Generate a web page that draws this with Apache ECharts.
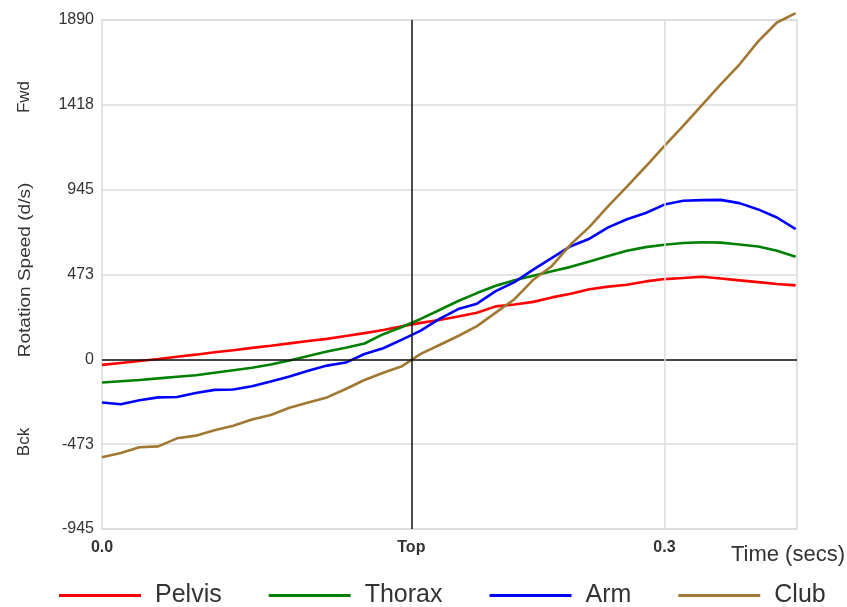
<!DOCTYPE html>
<html>
<head>
<meta charset="utf-8">
<script src="https://cdn.jsdelivr.net/npm/echarts@6/dist/echarts.min.js"></script>
<style>
  html, body { margin: 0; padding: 0; background: #fff; }
  #chart { width: 847px; height: 607px; }
</style>
</head>
<body>
<div id="chart"></div>
<script>
// Time samples (seconds)
const times = [0.00,0.01,0.02,0.03,0.04,0.05,0.06,0.07,0.08,0.09,
               0.10,0.11,0.12,0.13,0.14,0.15,0.16,0.17,0.18,0.19,
               0.20,0.21,0.22,0.23,0.24,0.25,0.26,0.27,0.28,0.29,
               0.30,0.31,0.32,0.33,0.34,0.35,0.36,0.37];

const pelvis = [-31,-20,-9,2,14,26,39,51,64,76,
                89,102,114,130,146,163,184,203,219,239,
                260,295,305,320,345,365,390,405,415,434,
                447,453,460,450,440,430,420,412];

const thorax = [-129,-122,-115,-106,-97,-89,-75,-61,-47,-29,
                -7,18,44,65,88,140,180,225,275,325,
                369,410,440,465,490,515,545,575,605,625,
                638,648,652,650,640,628,605,572];

const arm = [-240,-250,-228,-212,-210,-188,-170,-168,-150,-124,
             -95,-63,-35,-18,30,62,110,160,225,280,
             310,380,430,500,565,630,672,735,780,815,
             862,883,887,888,870,835,790,725];

const club = [-545,-522,-490,-485,-440,-425,-395,-370,-335,-310,
              -270,-240,-212,-165,-115,-75,-38,30,80,130,
              185,260,335,443,520,640,738,853,962,1074,
              1189,1300,1416,1531,1642,1771,1876,1928];

const seriesNames = ['Pelvis', 'Thorax', 'Arm', 'Club'];
const seriesData = [pelvis, thorax, arm, club];
const seriesColors = ['#ff0000', '#008000', '#0000ff', '#a07832'];

// Axis ticks
const yMin = -945, yMax = 1890, yInterval = 472.5;
const yTickLabels = ['-945', '-473', '0', '473', '945', '1418', '1890'];
const xMin = 0, xMax = 0.3707;
const topTime = 0.165;
const xTickValues = [0, topTime, 0.3];
const xTickLabels = ['0.0', 'Top', '0.3'];

const FONT = '"Liberation Sans", Arial, sans-serif';

const chart = echarts.init(document.getElementById('chart'), null, { renderer: 'canvas' });

const series = seriesNames.map((name, i) => ({
  name: name,
  type: 'line',
  data: times.map((t, k) => [t, seriesData[i][k]]),
  showSymbol: false,
  symbol: 'none',
  clip: false,
  z: 3,
  lineStyle: { color: seriesColors[i], width: 2.6 },
  itemStyle: { color: seriesColors[i] }
}));

// reference lines (zero line, "Top" line, 0.3 grid line)
series.unshift({
  name: 'ref',
  type: 'line',
  data: [],
  z: 1,
  silent: true,
  markLine: {
    silent: true,
    symbol: 'none',
    precision: 6,
    animation: false,
    label: { show: false },
    data: [
      { yAxis: 0, lineStyle: { color: '#111', width: 1.5, type: 'solid' } },
      { xAxis: topTime, lineStyle: { color: '#111', width: 1.5, type: 'solid' } },
      { xAxis: 0.3, lineStyle: { color: '#dcdcdc', width: 1.5, type: 'solid' } }
    ]
  }
});

const option = {
  animation: false,
  backgroundColor: '#fff',
  textStyle: { fontFamily: FONT },
  grid: {
    left: 102, right: 50, top: 20, bottom: 78,
    show: true, borderColor: '#d9d9d9', borderWidth: 1.5,
    containLabel: false
  },
  legend: {
    data: seriesNames,
    left: 59, top: 583,
    padding: 0,
    icon: 'rect',
    itemWidth: 82, itemHeight: 3,
    itemGap: 47,
    textStyle: { fontSize: 25, color: '#333', fontFamily: FONT, padding: [0, 0, 0, 9] }
  },
  xAxis: {
    type: 'value',
    min: xMin, max: xMax,
    axisLine: { show: false },
    axisTick: { show: false },
    splitLine: { show: false },
    axisLabel: {
      customValues: xTickValues,
      formatter: (v) => {
        const idx = xTickValues.findIndex(x => Math.abs(x - v) < 1e-6);
        return idx >= 0 ? xTickLabels[idx] : '';
      },
      fontSize: 16, fontWeight: 'bold', color: '#333', margin: 11, fontFamily: FONT
    }
  },
  yAxis: {
    type: 'value',
    min: yMin, max: yMax, interval: yInterval,
    axisLine: { show: false },
    axisTick: { show: false },
    splitLine: { show: true, lineStyle: { color: '#dcdcdc', width: 1.5 } },
    axisLabel: {
      formatter: (v) => {
        const idx = Math.round((v - yMin) / yInterval);
        return yTickLabels[idx] !== undefined ? yTickLabels[idx] : '';
      },
      fontSize: 16, color: '#333', margin: 8, fontFamily: FONT
    }
  },
  graphic: [
    {
      type: 'text', x: 25, y: 270, rotation: Math.PI / 2, scaleX: 1.12,
      style: { text: 'Rotation Speed (d/s)', font: '17px ' + FONT, fill: '#333', align: 'center', verticalAlign: 'middle' }
    },
    {
      type: 'text', x: 24, y: 97, rotation: Math.PI / 2,
      style: { text: 'Fwd', font: '17px ' + FONT, fill: '#333', align: 'center', verticalAlign: 'middle' }
    },
    {
      type: 'text', x: 24, y: 442, rotation: Math.PI / 2,
      style: { text: 'Bck', font: '17px ' + FONT, fill: '#333', align: 'center', verticalAlign: 'middle' }
    },
    {
      type: 'text', x: 845, y: 555,
      style: { text: 'Time (secs)', font: '22px ' + FONT, fill: '#333', align: 'right', verticalAlign: 'middle' }
    }
  ],
  series: series
};

chart.setOption(option);
</script>
</body>
</html>
